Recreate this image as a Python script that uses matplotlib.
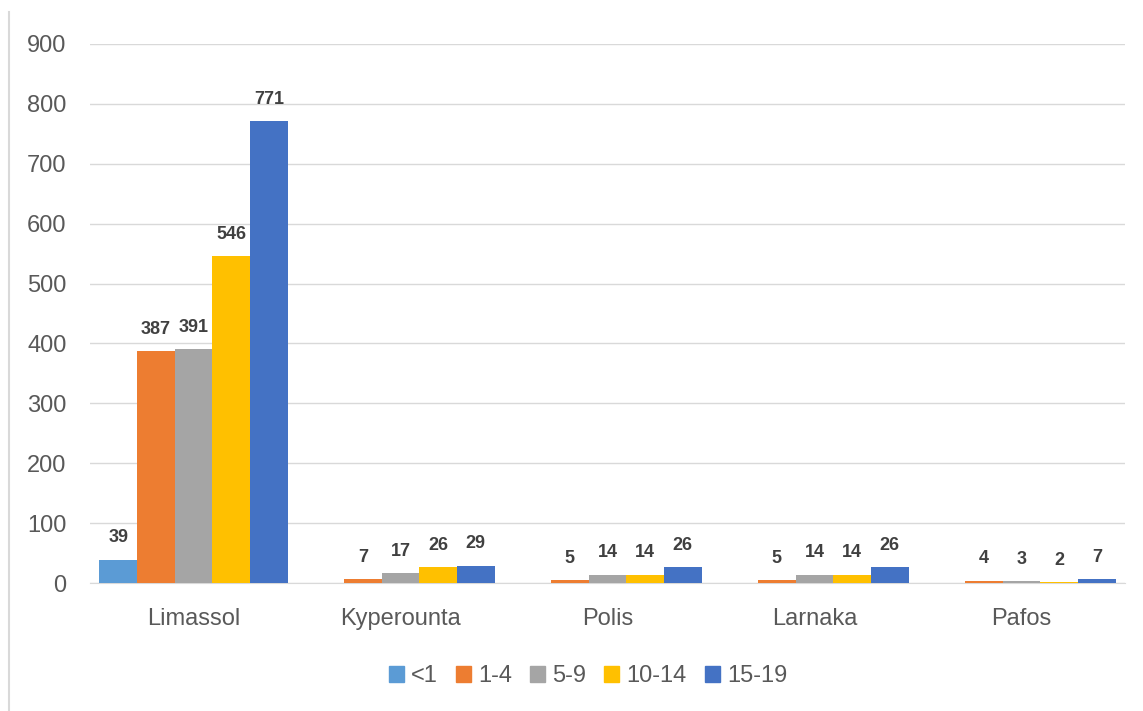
import numpy as np
import matplotlib
matplotlib.use("Agg")
import matplotlib.pyplot as plt
from matplotlib.lines import Line2D

# age groups per location
locations = ["Limassol", "Kyperounta", "Polis", "Larnaka", "Pafos"]
age_groups = ["<1", "1-4", "5-9", "10-14", "15-19"]
under_1 = [39, 0, 0, 0, 0]
age_1_4 = [387, 7, 5, 5, 4]
age_5_9 = [391, 17, 14, 14, 3]
age_10_14 = [546, 26, 14, 14, 2]
age_15_19 = [771, 29, 26, 26, 7]
colors = ["#5B9BD5", "#ED7D31", "#A5A5A5", "#FFC000", "#4472C4"]

series = [under_1, age_1_4, age_5_9, age_10_14, age_15_19]

plt.rcParams["font.family"] = ["Liberation Sans", "DejaVu Sans"]

fig = plt.figure(figsize=(11.43, 7.11), dpi=100)
ax = fig.add_axes([90 / 1143, (711 - 583) / 711, (1125 - 90) / 1143, (583 - 44) / 711])

x = np.arange(len(locations))
w = 0.182
for i, (vals, c) in enumerate(zip(series, colors)):
    pos = x + (i - 2) * w
    ax.bar(pos, vals, width=w, color=c, label=age_groups[i], zorder=3)
    for p, v in zip(pos, vals):
        if v == 0:
            continue
        ax.text(p, v + 22, str(v), ha="center", va="bottom", fontsize=13,
                fontweight="bold", color="#404040")

ax.set_xlim(-0.5, len(locations) - 0.5)
ax.set_ylim(0, 900)
ax.set_yticks(range(0, 901, 100))
ax.set_xticks(x)
ax.set_xticklabels(locations)
ax.grid(axis="y", color="#D9D9D9", linewidth=1, zorder=0)
for s in ["top", "right", "left"]:
    ax.spines[s].set_visible(False)
ax.spines["bottom"].set_color("#D9D9D9")
ax.tick_params(axis="both", length=0, labelsize=17, labelcolor="#595959")
ax.tick_params(axis="x", pad=18)
ax.tick_params(axis="y", pad=17)

handles = [plt.Rectangle((0, 0), 1, 1, color=c) for c in colors]
fig.legend(handles, age_groups, loc="center", bbox_to_anchor=(588 / 1143, 1 - 676 / 711),
           ncol=5, frameon=False, fontsize=17, handlelength=0.65, handleheight=0.65,
           handletextpad=0.3, columnspacing=0.75, labelcolor="#595959")

# thin frame line on the left edge
fig.add_artist(Line2D([9 / 1143, 9 / 1143], [0, 1 - 12 / 711], color="#D9D9D9", linewidth=1.5))

fig.savefig("out.png", dpi=100)
